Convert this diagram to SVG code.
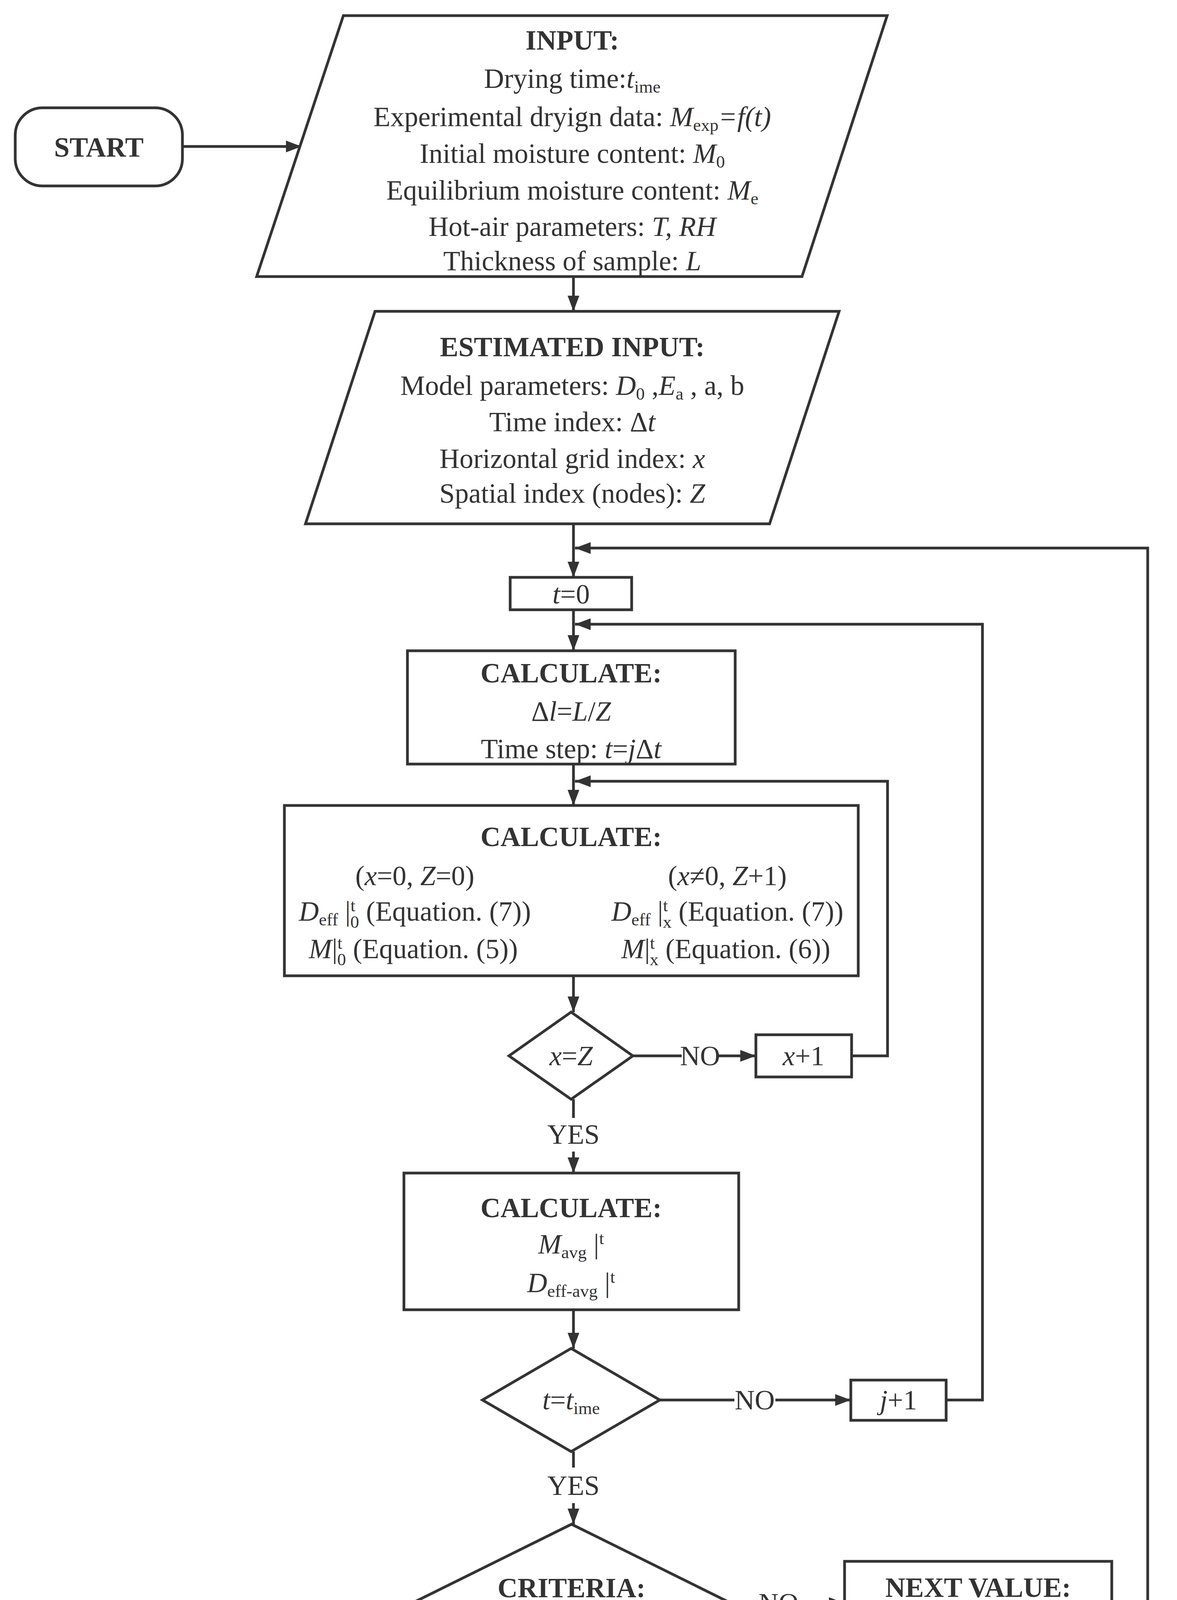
<svg xmlns="http://www.w3.org/2000/svg" width="3013" height="4975" viewBox="0 0 3013 4975">
<style>
.t{font-family:"Liberation Serif","Times New Roman",serif;font-size:71px;text-anchor:middle;fill:#333}
.b{font-weight:bold}
.i{font-style:italic}
.s{font-size:45px;font-style:normal}
.sh{fill:#fff;stroke:#333;stroke-width:7}
.ln{fill:none;stroke:#333;stroke-width:7}
</style>
<defs>
<marker id="a" markerUnits="userSpaceOnUse" markerWidth="40" markerHeight="30" refX="40" refY="15" orient="auto"><path d="M0,0 L40,15 L0,30 Z" fill="#333"/></marker>
</defs>
<rect width="3013" height="4975" fill="#fff"/>
<g id="connectors">
<path class="ln" d="M467,375 H772" marker-end="url(#a)"/>
<path class="ln" d="M1468,708 V797" marker-end="url(#a)"/>
<path class="ln" d="M1468,1341 V1478" marker-end="url(#a)"/>
<path class="ln" d="M1468,1561 V1666" marker-end="url(#a)"/>
<path class="ln" d="M1468,1956 V2062" marker-end="url(#a)"/>
<path class="ln" d="M1468,2498 V2591" marker-end="url(#a)"/>
<path class="ln" d="M1620,2703 H1745"/>
<path class="ln" d="M1840,2703 H1935" marker-end="url(#a)"/>
<path class="ln" d="M2180,2703 H2272 V2000 H1472" marker-end="url(#a)"/>
<path class="ln" d="M1468,2814 V2862"/>
<path class="ln" d="M1468,2948 V3003" marker-end="url(#a)"/>
<path class="ln" d="M1468,3353 V3452" marker-end="url(#a)"/>
<path class="ln" d="M1689,3584 H1880"/>
<path class="ln" d="M1985,3584 H2178" marker-end="url(#a)"/>
<path class="ln" d="M2422,3584 H2515 V1598 H1472" marker-end="url(#a)"/>
<path class="ln" d="M1468,3716 V3757"/>
<path class="ln" d="M1468,3848 V3902" marker-end="url(#a)"/>
<path class="ln" d="M1871,4104 H1943"/>
<path class="ln" d="M2043,4104 H2162" marker-end="url(#a)"/>
<path class="ln" d="M2846,4104 H2938 V1403 H1472" marker-end="url(#a)"/>
<path class="ln" d="M1468,4305 V4347"/>
<path class="ln" d="M1468,4438 V4488" marker-end="url(#a)"/>
<path class="ln" d="M2054,4702 H2436" marker-end="url(#a)"/>
<text class="t" x="1792" y="2727">NO</text>
<text class="t" x="1468" y="2928">YES</text>
<text class="t" x="1932" y="3608">NO</text>
<text class="t" x="1468" y="3827">YES</text>
<text class="t" x="1993" y="4128">NO</text>
<text class="t" x="1468" y="4418">YES</text>
</g>
<g id="start">
<rect class="sh" x="39" y="276" width="428" height="200" rx="70"/>
<text class="t b" x="253" y="401">START</text>
</g>
<g id="input">
<path class="sh" d="M879,40 H2271 L2053,708 H657 Z"/>
<text class="t b" x="1465" y="127">INPUT:</text>
<text class="t" x="1465" y="225">Drying time:<tspan class="i">t</tspan><tspan class="s" dy="12">ime</tspan></text>
<text class="t" x="1465" y="323">Experimental dryign data: <tspan class="i">M</tspan><tspan class="s" dy="12">exp</tspan><tspan class="i" dy="-12">=f(t)</tspan></text>
<text class="t" x="1465" y="417">Initial moisture content: <tspan class="i">M</tspan><tspan class="s" dy="12">0</tspan></text>
<text class="t" x="1465" y="511">Equilibrium moisture content: <tspan class="i">M</tspan><tspan class="s" dy="12">e</tspan></text>
<text class="t" x="1465" y="604">Hot-air parameters: <tspan class="i">T, RH</tspan></text>
<text class="t" x="1465" y="692">Thickness of sample: <tspan class="i">L</tspan></text>
</g>
<g id="estimated">
<path class="sh" d="M960,797 H2148 L1970,1341 H782 Z"/>
<text class="t b" x="1465" y="912">ESTIMATED INPUT:</text>
<text class="t" x="1465" y="1011">Model parameters: <tspan class="i">D</tspan><tspan class="s" dy="12">0</tspan><tspan dy="-12"> ,</tspan><tspan class="i">E</tspan><tspan class="s" dy="12">a</tspan><tspan dy="-12"> , a, b</tspan></text>
<text class="t" x="1465" y="1104">Time index: Δ<tspan class="i">t</tspan></text>
<text class="t" x="1465" y="1198">Horizontal grid index: <tspan class="i">x</tspan></text>
<text class="t" x="1465" y="1287">Spatial index (nodes): <tspan class="i">Z</tspan></text>
</g>
<g id="t0">
<rect class="sh" x="1306" y="1478" width="311" height="83"/>
<text class="t" x="1462" y="1545"><tspan class="i">t</tspan>=0</text>
</g>
<g id="calc1">
<rect class="sh" x="1043" y="1666" width="839" height="290"/>
<text class="t b" x="1462" y="1747">CALCULATE:</text>
<text class="t" x="1462" y="1845">Δ<tspan class="i">l</tspan>=<tspan class="i">L</tspan>/<tspan class="i">Z</tspan></text>
<text class="t" x="1462" y="1941">Time step: <tspan class="i">t</tspan>=<tspan class="i">j</tspan>Δ<tspan class="i">t</tspan></text>
</g>
<g id="calc2">
<rect class="sh" x="728" y="2062" width="1469" height="436"/>
<text class="t b" x="1462" y="2166">CALCULATE:</text>
<text class="t" x="1062" y="2266">(<tspan class="i">x</tspan>=0, <tspan class="i">Z</tspan>=0)</text>
<text class="t" x="1862" y="2266">(<tspan class="i">x</tspan>≠0, <tspan class="i">Z</tspan>+1)</text>
<text class="t" x="1062" y="2357"><tspan class="i">D</tspan><tspan class="s" dy="12">eff</tspan><tspan dy="-12"> |</tspan><tspan class="s" dy="-24">t</tspan><tspan class="s" dx="-13" dy="42">0</tspan><tspan dy="-18"> (Equation. (7))</tspan></text>
<text class="t" x="1862" y="2357"><tspan class="i">D</tspan><tspan class="s" dy="12">eff</tspan><tspan dy="-12"> |</tspan><tspan class="s" dy="-24">t</tspan><tspan class="s i" dx="-13" dy="42">x</tspan><tspan dy="-18"> (Equation. (7))</tspan></text>
<text class="t" x="1058" y="2453"><tspan class="i">M</tspan>|<tspan class="s" dy="-24">t</tspan><tspan class="s" dx="-13" dy="42">0</tspan><tspan dy="-18">  (Equation. (5))</tspan></text>
<text class="t" x="1858" y="2453"><tspan class="i">M</tspan>|<tspan class="s" dy="-24">t</tspan><tspan class="s i" dx="-13" dy="42">x</tspan><tspan dy="-18">  (Equation. (6))</tspan></text>
</g>
<g id="d1">
<path class="sh" d="M1462,2591 L1620,2703 L1462,2814 L1303,2703 Z"/>
<text class="t" x="1462" y="2727"><tspan class="i">x</tspan>=<tspan class="i">Z</tspan></text>
</g>
<g id="xplus">
<rect class="sh" x="1935" y="2649" width="245" height="108"/>
<text class="t" x="2057" y="2727"><tspan class="i">x</tspan>+1</text>
</g>
<g id="calc3">
<rect class="sh" x="1034" y="3003" width="857" height="350"/>
<text class="t b" x="1462" y="3116">CALCULATE:</text>
<text class="t" x="1462" y="3209"><tspan class="i">M</tspan><tspan class="s" dy="12">avg</tspan><tspan dy="-12"> |</tspan><tspan class="s" dy="-24">t</tspan></text>
<text class="t" x="1462" y="3308"><tspan class="i">D</tspan><tspan class="s" dy="12">eff-avg</tspan><tspan dy="-12"> |</tspan><tspan class="s" dy="-24">t</tspan></text>
</g>
<g id="d2">
<path class="sh" d="M1462,3452 L1689,3584 L1462,3716 L1235,3584 Z"/>
<text class="t" x="1462" y="3608"><tspan class="i">t</tspan>=<tspan class="i">t</tspan><tspan class="s" dy="12">ime</tspan></text>
</g>
<g id="jplus">
<rect class="sh" x="2178" y="3533" width="244" height="103"/>
<text class="t" x="2300" y="3608"><tspan class="i">j</tspan>+1</text>
</g>
<g id="criteria">
<path class="sh" d="M1463,3902 L1871,4104 L1463,4305 L1055,4104 Z"/>
<text class="t b" x="1463" y="4089">CRITERIA:</text>
<text class="t" x="1463" y="4181"><tspan class="i">R</tspan><tspan class="s" dy="-26">2</tspan><tspan dy="26"> , </tspan><tspan class="i">RMSE</tspan></text>
</g>
<g id="next">
<rect class="sh" x="2162" y="3997" width="684" height="213"/>
<text class="t b" x="2504" y="4088">NEXT VALUE:</text>
<text class="t" x="2504" y="4181"><tspan class="i">D</tspan><tspan class="s" dy="12">0</tspan><tspan class="i" dy="-12">, E</tspan><tspan class="s" dy="12">a</tspan><tspan dy="-12">, a, b</tspan></text>
</g>
<g id="output">
<path class="sh" d="M940,4488 H2125 L1985,4918 H800 Z"/>
<text class="t b" x="1462" y="4594">OUTPUT:</text>
<text class="t" x="1462" y="4693"><tspan class="i">D</tspan><tspan class="s" dy="12">0</tspan><tspan class="i" dy="-12">, E</tspan><tspan class="s" dy="12">a</tspan><tspan dy="-12">, a, b,</tspan></text>
<text class="t" x="1462" y="4783"><tspan class="i">M</tspan>|<tspan class="s" dy="-24">t</tspan><tspan class="s i" dx="-13" dy="42">x</tspan><tspan dy="-18"> , </tspan><tspan class="i">M</tspan><tspan class="s" dy="12">avg</tspan><tspan dy="-12"> |</tspan><tspan class="s" dy="-24">t</tspan><tspan dy="24">  , </tspan><tspan class="i">D</tspan><tspan class="s" dy="12">eff</tspan><tspan dy="-12"> |</tspan><tspan class="s" dy="-24">t</tspan><tspan class="s i" dx="-13" dy="42">x</tspan><tspan dy="-18"> , </tspan><tspan class="i">D</tspan><tspan class="s" dy="12">eff-avg</tspan><tspan dy="-12"> |</tspan><tspan class="s" dy="-24">t</tspan><tspan dy="24"> ,</tspan></text>
<text class="t" x="1462" y="4873"><tspan class="i">R</tspan><tspan class="s" dy="-26">2</tspan><tspan dy="26">, </tspan><tspan class="i">RMSE</tspan></text>
</g>
<g id="stop">
<rect class="sh" x="2436" y="4607" width="568" height="195" rx="75"/>
<text class="t b" x="2720" y="4728">STOP</text>
</g>
</svg>
